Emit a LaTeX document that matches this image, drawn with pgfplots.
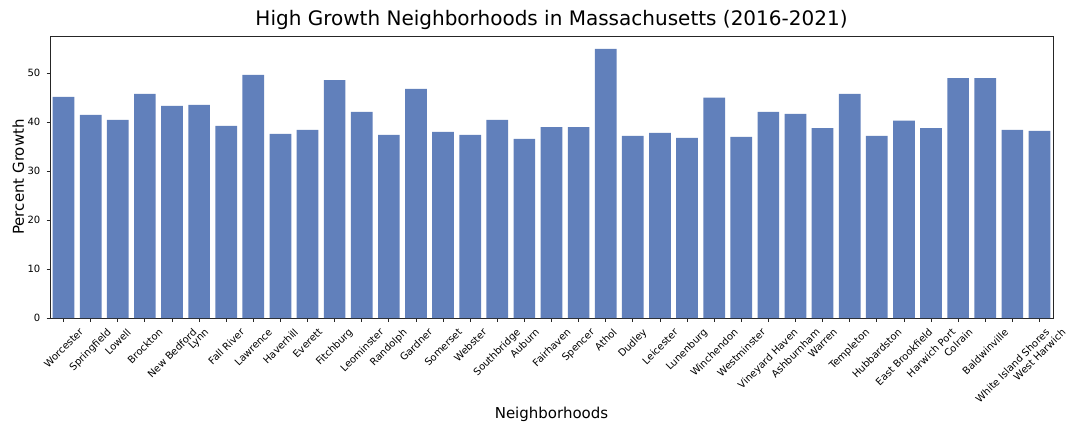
\documentclass[border=0pt]{standalone}
\usepackage{pgfplots}
\pgfplotsset{compat=1.18}
\usepackage{fontspec}
\setmainfont{DejaVu Sans}
\definecolor{barblue}{RGB}{97,128,187}
\definecolor{spine}{RGB}{38,38,38}
\begin{document}
\begin{tikzpicture}
\begin{axis}[
  name=ax,
  scale only axis,
  width=1003pt, height=282pt,
  xmin=-0.5, xmax=36.5,
  ymin=0, ymax=57.6,
  ytick={0,10,20,30,40,50},
  xtick={0,...,36},
  xticklabels={
    \rotatebox{45}{Worcester},\rotatebox{45}{Springfield},\rotatebox{45}{Lowell},\rotatebox{45}{Brockton},
    \rotatebox{45}{New Bedford},\rotatebox{45}{Lynn},\rotatebox{45}{Fall River},\rotatebox{45}{Lawrence},
    \rotatebox{45}{Haverhill},\rotatebox{45}{Everett},\rotatebox{45}{Fitchburg},\rotatebox{45}{Leominster},
    \rotatebox{45}{Randolph},\rotatebox{45}{Gardner},\rotatebox{45}{Somerset},\rotatebox{45}{Webster},
    \rotatebox{45}{Southbridge},\rotatebox{45}{Auburn},\rotatebox{45}{Fairhaven},\rotatebox{45}{Spencer},
    \rotatebox{45}{Athol},\rotatebox{45}{Dudley},\rotatebox{45}{Leicester},\rotatebox{45}{Lunenburg},
    \rotatebox{45}{Winchendon},\rotatebox{45}{Westminster},\rotatebox{45}{Vineyard Haven},\rotatebox{45}{Ashburnham},
    \rotatebox{45}{Warren},\rotatebox{45}{Templeton},\rotatebox{45}{Hubbardston},\rotatebox{45}{East Brookfield},
    \rotatebox{45}{Harwich Port},\rotatebox{45}{Colrain},\rotatebox{45}{Baldwinville},\rotatebox{45}{White Island Shores},
    \rotatebox{45}{West Harwich}},
  x tick label style={anchor=north, inner sep=0pt, yshift=-6pt, font=\fontsize{10}{12}\selectfont},
  y tick label style={anchor=east, inner sep=0pt, xshift=-6pt, font=\fontsize{10}{12}\selectfont},
  /pgf/number format/assume math mode=true,
  tick align=outside,
  major tick length=3.5pt,
  tick style={spine, line width=0.8pt},
  xtick pos=bottom, ytick pos=left,
  axis line style={spine, line width=0.8pt},
  title={High Growth Neighborhoods in Massachusetts (2016-2021)},
  title style={font=\fontsize{20}{24}\selectfont, yshift=-3pt},
  xlabel={Neighborhoods},
  ylabel={Percent Growth},
  xlabel style={font=\fontsize{15}{18}\selectfont},
  ylabel style={font=\fontsize{15}{18}\selectfont},
  ybar, bar width=0.8, bar shift=0pt,
]
\addplot[fill=barblue, draw=none] coordinates {
(0,45.16) (1,41.5) (2,40.47) (3,45.78) (4,43.33) (5,43.53) (6,39.24) (7,49.65)
(8,37.6) (9,38.4) (10,48.6) (11,42.1) (12,37.4) (13,46.8) (14,38.0) (15,37.4)
(16,40.47) (17,36.6) (18,39.0) (19,39.0) (20,54.96) (21,37.2) (22,37.8) (23,36.8)
(24,45.0) (25,37.0) (26,42.1) (27,41.7) (28,38.8) (29,45.78) (30,37.2) (31,40.3)
(32,38.8) (33,49.0) (34,49.0) (35,38.4) (36,38.2)
};
\end{axis}
\path ([xshift=-50pt,yshift=-114pt]ax.south west) rectangle ([xshift=27pt,yshift=36pt]ax.north east);
\end{tikzpicture}
\end{document}
